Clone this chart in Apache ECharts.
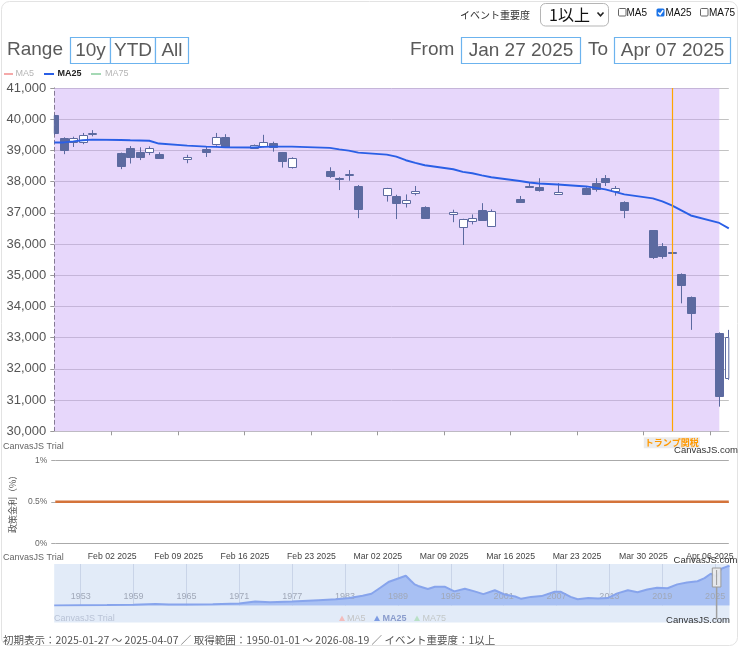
<!DOCTYPE html>
<html><head><meta charset="utf-8">
<script src="https://cdn.jsdelivr.net/npm/echarts@6/dist/echarts.min.js"></script>
<style>html,body{margin:0;padding:0;background:#fff;}#c{width:739px;height:647px;}</style>
</head><body><div id="c"></div>
<script>
// ---------------- data ----------------
const tradeDates = [
 '2025-01-27','2025-01-28','2025-01-29','2025-01-30','2025-01-31',
 '2025-02-03','2025-02-04','2025-02-05','2025-02-06','2025-02-07',
 '2025-02-10','2025-02-12','2025-02-13','2025-02-14',
 '2025-02-17','2025-02-18','2025-02-19','2025-02-20','2025-02-21',
 '2025-02-25','2025-02-26','2025-02-27','2025-02-28',
 '2025-03-03','2025-03-04','2025-03-05','2025-03-06','2025-03-07',
 '2025-03-10','2025-03-11','2025-03-12','2025-03-13','2025-03-14',
 '2025-03-17','2025-03-18','2025-03-19','2025-03-21',
 '2025-03-24','2025-03-25','2025-03-26','2025-03-27','2025-03-28',
 '2025-03-31','2025-04-01','2025-04-02','2025-04-03','2025-04-04',
 '2025-04-07','2025-04-08'];
const openVals = [
 40140,39390,39280,39270,39540,
 38910,39070,38960,38950,38900,
 38720,39060,39200,39420,
 39080,39140,39230,38940,38480,
 38350,38130,38240,37860,
 37570,37540,37310,37630,37200,
 36950,36550,36730,37080,36580,
 37450,37870,37840,37590,
 37800,37950,38120,37710,37360,
 36440,35950,35760,35050,34310,
 33160,31700];
const closeVals = [
 39560,39000,39410,39510,39560,
 38490,38780,38800,39070,38760,
 38790,38940,39440,39120,
 39170,39260,39100,38650,38770,
 38190,38120,38250,37120,
 37790,37320,37420,37710,36850,
 37030,36800,36830,36780,37060,
 37360,37830,37720,37670,
 37600,37750,37990,37790,37100,
 35600,35620,35720,34700,33780,
 31140,33010];
const lowVals = [
 39500,38880,39110,39200,39450,
 38400,38580,38690,38850,38740,
 38590,38790,39150,39100,
 39060,39100,38960,38450,38420,
 38120,37730,38030,36830,
 37360,36800,37170,37560,36810,
 36700,35970,36630,36760,36560,
 37340,37810,37680,37580,
 37570,37680,37860,37550,36830,
 35520,35530,35420,34100,33250,
 30790,31650];
const highVals = [
 40150,39420,39440,39560,39650,
 38930,39140,39100,39130,38940,
 38860,39120,39560,39520,
 39190,39500,39280,38950,38780,
 38460,38140,38370,37890,
 37800,37580,37590,37860,37210,
 37100,36810,36950,37310,37110,
 37540,37970,38110,37950,
 37820,38110,38210,37860,37370,
 36450,36030,35780,35060,34320,
 33170,33250];
const ma25Vals = [
 39256,39256,39288,39327,39346,
 39336,39327,39320,39310,39220,
 39154,39122,39112,39096,
 39093,39112,39122,39122,39122,
 39080,39032,38994,38930,
 38865,38800,38686,38599,38526,
 38397,38311,38269,38199,38141,
 38022,37974,37942,37910,
 37846,37798,37750,37670,37590,
 37462,37365,37237,37077,36916,
 36676,36500];

const rateDates = ['2025-01-27','2025-04-08'];
const rateVals = [0.5, 0.5];

const eventDate = '2025-04-02';
const eventLabel = 'トランプ関税';
const initStart = '2025-01-27';
const initEnd = '2025-04-07';
const navStart = '1950-01-01';
const navEnd = '2026-08-19';

const navYears = [1950,1953,1956,1959,1961.5,1963,1965,1968,1970,1971,1972.8,1974.5,1977,1980,1982,1983.5,1985,1986,1987,1988,1989.9,1990.5,1990.9,1991.3,1992.4,1993.2,1994.3,1995.4,1996.6,1997.7,1998.7,2000,2001.1,2002.3,2003,2004.1,2005.3,2006.8,2007.5,2008.6,2009.4,2010.6,2011.7,2012.8,2013.9,2015.1,2016.2,2017.3,2018.4,2019.6,2020.7,2021.8,2023,2023.8,2024.5,2025.2,2025.7,2026.4,2026.63];
const navVals  = [100,400,500,1000,1800,1400,1300,1600,2300,2600,5000,4000,5000,6800,8000,9500,12500,15000,22700,30400,38000,31300,27000,25000,21000,24000,24000,18000,21500,18000,14500,19500,14000,11500,8500,11000,12000,17500,17500,11000,8000,9500,8800,9500,15500,19500,17000,20500,22800,22000,27000,29500,31000,35000,40500,37000,47000,50000,50500];
const navTickYears = [1953,1959,1965,1971,1977,1983,1989,1995,2001,2007,2013,2019,2025];
const navMax = 53000;

const yTicksMain = {min:30000, max:41000, step:1000};
const yTicksRate = {min:0, max:1, step:0.5};

// ---------------- helpers ----------------
const LAT = 'Liberation Sans', CJK = 'Noto Sans CJK JP';
const MONTHS = ['Jan','Feb','Mar','Apr','May','Jun','Jul','Aug','Sep','Oct','Nov','Dec'];
const CANDLE = '#5c6aa0';
function addDays(s, n){ const d = new Date(s+'T00:00:00Z'); d.setUTCDate(d.getUTCDate()+n); return d.toISOString().slice(0,10); }
function isSunday(s){ return new Date(s+'T00:00:00Z').getUTCDay() === 0; }
function fmtDate(s){ const p = s.split('-'); return MONTHS[+p[1]-1]+' '+p[2]+' '+p[0]; }
function decYear(s){ const d = new Date(s+'T00:00:00Z'); const y = d.getUTCFullYear();
  const a = Date.UTC(y,0,1), b = Date.UTC(y+1,0,1); return y + (d.getTime()-a)/(b-a); }

const cats = [];
for (let d = tradeDates[0]; d <= tradeDates[tradeDates.length-1]; d = addDays(d,1)) cats.push(d);
const idx = d => cats.indexOf(d);
const sundayFn = (i, v) => isSunday(v);

const candleData = tradeDates.map((d,i)=>[idx(d), openVals[i], closeVals[i], lowVals[i], highVals[i]]);
const maData = tradeDates.map((d,i)=>[idx(d), ma25Vals[i]]);
const rateData = rateDates.map((d,i)=>[idx(d), rateVals[i]]);
const navData = navYears.map((y,i)=>[y, navVals[i]]);

// candlestick drawn through the axis scales, clipped to the plot rectangle
function renderCandle(params, api){
  const xi = api.value(0), o = api.value(1), c = api.value(2), l = api.value(3), h = api.value(4);
  const cs = params.coordSys;
  const pO = api.coord([xi, o]), pC = api.coord([xi, c]), pL = api.coord([xi, l]), pH = api.coord([xi, h]);
  const n = Math.round(pO[0]);
  const w = 7;
  const top = Math.round(Math.min(pO[1], pC[1])) + 0.5;
  const bot = Math.max(Math.round(Math.max(pO[1], pC[1])) + 0.5, top + 1);
  const up = c > o;
  const children = [];
  let wx = n + 0.5;
  if (wx > cs.x + cs.width) wx = n - 0.5;
  if (wx >= cs.x - 0.5 && wx <= cs.x + cs.width + 0.5) {
    children.push({type:'line', shape:{x1:wx, y1:pH[1], x2:wx, y2:top}, style:{stroke:CANDLE, lineWidth:1}});
    children.push({type:'line', shape:{x1:wx, y1:bot, x2:wx, y2:pL[1]}, style:{stroke:CANDLE, lineWidth:1}});
  }
  const rect = echarts.graphic.clipRectByRect(
    {x: n - 3.5, y: top, width: w + 1, height: bot - top},
    {x: cs.x, y: cs.y, width: cs.width, height: cs.height});
  if (rect) children.push({type:'rect', shape: rect, style:{fill: up ? '#ffffff' : CANDLE, stroke: CANDLE, lineWidth: 1}});
  return {type:'group', children: children};
}

// ---------------- decorations (graphic) ----------------
const G = [];
function T(x,y,text,size,color,opt){ opt = opt||{};
  G.push({type:'text', x:x, y:y, silent:true, z:10, style:{text:text, fill:color, fontSize:size,
    fontFamily:opt.family||LAT, fontWeight:opt.weight||'normal', align:opt.align||'left', verticalAlign:'middle'}}); }
function R(x,y,w,h,fill,stroke,r,lw){ G.push({type:'rect', silent:true, z:9, shape:{x:x,y:y,width:w,height:h,r:r||0},
  style:{fill:fill, stroke:stroke||null, lineWidth:lw||1}}); }
function L(x1,y1,x2,y2,stroke,lw){ G.push({type:'line', silent:true, z:10, shape:{x1:x1,y1:y1,x2:x2,y2:y2}, style:{stroke:stroke, lineWidth:lw||1}}); }

// card border
G.push({type:'rect', silent:true, z:-10, shape:{x:1.5,y:1.5,width:736,height:644,r:8}, style:{fill:'none', stroke:'#e3e3e3', lineWidth:1}});

// top controls
T(460,15,'イベント重要度',10,'#333',{family:CJK});
R(540.5,3.5,68,22.5,'#fff','#b5b5b5',5,1);
T(549,15,'1以上',16,'#111',{family:CJK});
G.push({type:'polyline', silent:true, z:10, shape:{points:[[597.5,12.5],[600.5,15.8],[603.5,12.5]]}, style:{stroke:'#222', lineWidth:1.6, fill:null}});
R(618.5,8.5,7.5,7.5,'#fff','#666',1,1);
T(626.5,13,'MA5',10,'#111');
R(656.5,8.5,8,8,'#1a73e8',null,1.5);
G.push({type:'polyline', silent:true, z:11, shape:{points:[[658.3,12.6],[660.1,14.5],[663.2,10.2]]}, style:{stroke:'#fff', lineWidth:1.5, fill:null}});
T(665.5,13,'MA25',10,'#111');
R(700.5,8.5,7.5,7.5,'#fff','#666',1,1);
T(709,13,'MA75',10,'#111');

// range row
T(7,50,'Range',19,'#5a5a5a');
R(70.5,37.5,40,26,'#fff','#6cb3ee',0,1.2);  T(90.5,50.5,'10y',19,'#5a5a5a',{align:'center'});
R(110.5,37.5,45,26,'#fff','#6cb3ee',0,1.2); T(133,50.5,'YTD',19,'#5a5a5a',{align:'center'});
R(155.5,37.5,33,26,'#fff','#6cb3ee',0,1.2); T(172,50.5,'All',19,'#5a5a5a',{align:'center'});
T(410,50,'From',19,'#5a5a5a');
R(461.5,37.5,119,26,'#fff','#6cb3ee',0,1.2); T(521,50.5,fmtDate(initStart),19,'#5a5a5a',{align:'center'});
T(588,50,'To',19,'#5a5a5a');
R(614.5,37.5,116,26,'#fff','#6cb3ee',0,1.2); T(672.5,50.5,fmtDate(initEnd),19,'#5a5a5a',{align:'center'});

// main legend
L(4,74,13,74,'#f5a9a9',2);   T(15.5,74,'MA5',9,'#b5b5b5');
L(44,74,54,74,'#2a5fe6',2);  T(57.5,74,'MA25',9,'#222',{weight:'bold'});
L(91,74,101,74,'#a5d9b5',2); T(105,74,'MA75',9,'#b5b5b5');

// watermarks
T(3,447,'CanvasJS Trial',9,'#666');
T(706,450.5,'CanvasJS.com',9.5,'#333',{align:'center'});
T(3,557.5,'CanvasJS Trial',9,'#666');

// navigator lower strip
G.push({type:'rect', silent:true, z:-5, shape:{x:54.2,y:605.5,width:675.3,height:17}, style:{fill:'#e2ebf8'}});
T(54,618.3,'CanvasJS Trial',9,'#b9c3d6');
function tri(x,fill){ G.push({type:'polygon', silent:true, z:10, shape:{points:[[x,621],[x+6,621],[x+3,615.5]]}, style:{fill:fill}}); }
tri(339,'#f3bcbc'); T(347,618.3,'MA5',9,'#c3c3c3');
tri(374,'#7e9ce3'); T(382.5,618.3,'MA25',9,'#8a9ccc',{weight:'bold'});
tri(414,'#b9e0c6'); T(422.5,618.3,'MA75',9,'#c3c8c8');
T(705.5,560.5,'CanvasJS.com',9.5,'#333',{align:'center'});
T(698,620.5,'CanvasJS.com',9.5,'#333',{align:'center'});

// footer
T(3,640,'初期表示：'+initStart+' 〜 '+initEnd+' ／ 取得範囲：'+navStart+' 〜 '+navEnd+' ／ イベント重要度：1以上',10.5,'#555',{family:CJK});

// ---------------- chart ----------------
const chart = echarts.init(document.getElementById('c'), null, {renderer:'canvas'});
const option = {
  animation:false,
  backgroundColor:'#fff',
  grid:[
    {left:54.3, right:10.2, top:88, height:343.3},
    {left:54.3, right:10.2, top:460.3, height:83},
    {left:54.2, right:9.5, top:564, height:41.5, show:true, backgroundColor:'#e2ebf8', borderWidth:0}
  ],
  xAxis:[
    {type:'category', gridIndex:0, data:cats, boundaryGap:false,
     axisLabel:{show:false},
     axisTick:{show:true, interval:sundayFn, length:4, lineStyle:{color:'#999'}},
     axisLine:{show:true, lineStyle:{color:'#bdbdbd'}},
     splitLine:{show:false}},
    {type:'category', gridIndex:1, data:cats, boundaryGap:false,
     axisLine:{show:false}, axisTick:{show:false}, splitLine:{show:false},
     axisLabel:{interval:sundayFn, formatter:v=>fmtDate(v), margin:9, fontSize:8.7, color:'#444', fontFamily:LAT}},
    {type:'value', gridIndex:2, min:decYear(navStart), max:decYear(navEnd), interval:3, z:3,
     axisLine:{show:false}, axisTick:{show:false}, splitLine:{show:false},
     axisLabel:{inside:true, margin:4, fontSize:9, color:'#a0a8b8', fontFamily:LAT,
       formatter:v=> navTickYears.indexOf(Math.round(v))>=0 && Math.abs(v-Math.round(v))<0.01 ? String(Math.round(v)) : ''}}
  ],
  yAxis:[
    {type:'value', gridIndex:0, min:yTicksMain.min, max:yTicksMain.max, interval:yTicksMain.step,
     axisLine:{show:true, lineStyle:{color:'#666', type:[4,3]}},
     axisTick:{show:true, length:4, lineStyle:{color:'#999'}},
     axisLabel:{formatter:v=>v.toLocaleString('en-US'), fontSize:13, color:'#555', margin:8, fontFamily:LAT},
     splitLine:{show:true, lineStyle:{color:'#c2c2c2'}}},
    {type:'value', gridIndex:1, min:yTicksRate.min, max:yTicksRate.max, interval:yTicksRate.step,
     axisLine:{show:false},
     axisTick:{show:true, length:4, lineStyle:{color:'#aaa'}},
     axisLabel:{formatter:v=>v+'%', fontSize:8.5, color:'#666', margin:8, fontFamily:LAT},
     splitLine:{show:true, lineStyle:{color:'#aaa'}},
     name:'政策金利（%）', nameLocation:'middle', nameRotate:90, nameGap:32,
     nameTextStyle:{fontSize:9, color:'#555', fontFamily:CJK}},
    {type:'value', gridIndex:2, min:0, max:navMax, show:false}
  ],
  series:[
    {type:'custom', name:'Nikkei', xAxisIndex:0, yAxisIndex:0, data:candleData,
     encode:{x:0, y:[1,2,3,4]}, renderItem:renderCandle, z:2, silent:true},
    {type:'line', name:'MA25', xAxisIndex:0, yAxisIndex:0, data:maData, symbol:'none', z:3,
     lineStyle:{color:'#2a5fe6', width:1.9},
     markArea:{silent:true, itemStyle:{color:'rgba(201,166,247,0.45)'},
       data:[[{xAxis:initStart},{xAxis:initEnd}]]},
     markLine:{silent:true, symbol:['none','none'],
       lineStyle:{color:'#ffa500', width:1.2, type:'solid'},
       label:{show:true, position:'start', formatter:eventLabel, color:'#ff9900', fontSize:9, fontWeight:'bold',
         fontFamily:CJK, backgroundColor:'#ebebeb', padding:[1,1], distance:6},
       data:[{xAxis:eventDate}]}},
    {type:'line', name:'rate', xAxisIndex:1, yAxisIndex:1, data:rateData, symbol:'none',
     lineStyle:{color:'#d4733a', width:2.5}},
    {type:'line', name:'nav', xAxisIndex:2, yAxisIndex:2, data:navData, symbol:'none',
     lineStyle:{color:'#87a4ec', width:2}, areaStyle:{color:'#a8c0f3', opacity:1},
     markLine:{silent:true, z:1, symbol:['none','none'], label:{show:false},
       lineStyle:{color:'#c9d4e8', width:1, type:'solid'},
       data:navTickYears.map(y=>[{coord:[y,0]},{coord:[y,navMax]}])}}
  ],
  graphic:G
};
chart.setOption(option);

// navigator selection handle, placed through the nav axis scale
const hx1 = chart.convertToPixel({xAxisIndex:2}, decYear(initStart));
const hx2 = chart.convertToPixel({xAxisIndex:2}, decYear(initEnd));
const hc = (hx1+hx2)/2;
const G2 = G.concat([
  {type:'line', silent:true, z:12, shape:{x1:hc,y1:587,x2:hc,y2:619}, style:{stroke:'#a0a0a0', lineWidth:1.5}},
  {type:'rect', silent:true, z:12, shape:{x:hc-4.3,y:568,width:8.6,height:19}, style:{fill:'rgba(235,235,235,0.9)', stroke:'#9a9a9a', lineWidth:1}},
  {type:'line', silent:true, z:13, shape:{x1:hc,y1:570,x2:hc,y2:585}, style:{stroke:'#9a9a9a', lineWidth:1}}
]);
chart.setOption({graphic:G2});
</script></body></html>
